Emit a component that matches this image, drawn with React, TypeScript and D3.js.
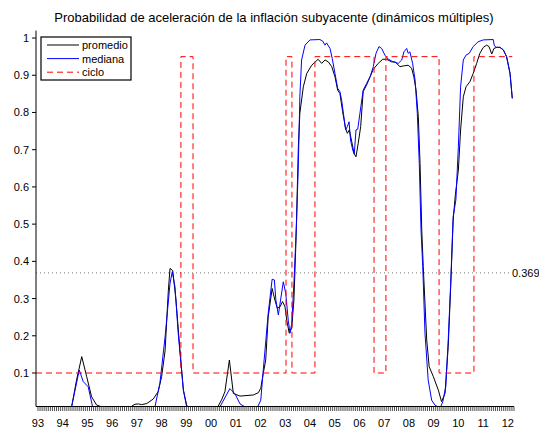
import * as d3 from 'd3'

const TITLE = 'Probabilidad de aceleración de la inflación subyacente (dinámicos múltiples)'
const THRESHOLD = 0.369
const YEAR_LABELS = ['93', '94', '95', '96', '97', '98', '99', '00', '01', '02', '03', '04', '05', '06', '07', '08', '09', '10', '11', '12']
const Y_TICKS = [0.1, 0.2, 0.3, 0.4, 0.5, 0.6, 0.7, 0.8, 0.9, 1]

// [year, value]
const promedio: [number, number][] = [
  [1993, 0], [1994.21, 0], [1994.36, 0.009], [1994.56, 0.081], [1994.77, 0.144], [1994.97, 0.09],
  [1995.17, 0.036], [1995.37, 0.014], [1995.58, 0.009], [1995.83, 0], [1996.72, 0],
  [1996.79, 0.011], [1996.92, 0.016], [1997.06, 0.017], [1997.19, 0.015], [1997.4, 0.018],
  [1997.66, 0.03], [1997.86, 0.05], [1998.0, 0.09], [1998.14, 0.16], [1998.27, 0.32],
  [1998.34, 0.381], [1998.45, 0.375], [1998.58, 0.296], [1998.74, 0.162], [1998.88, 0.054],
  [1999.01, 0.014], [1999.15, 0], [2000.12, 0], [2000.28, 0.01], [2000.44, 0.03], [2000.56, 0.05],
  [2000.74, 0.135], [2000.9, 0.045], [2001.17, 0.038], [2001.71, 0.041], [2001.91, 0.047],
  [2002.01, 0.059], [2002.11, 0.099], [2002.21, 0.135], [2002.31, 0.251], [2002.47, 0.327],
  [2002.58, 0.296], [2002.68, 0.274], [2002.79, 0.278], [2002.89, 0.292], [2002.99, 0.278],
  [2003.06, 0.242], [2003.16, 0.207], [2003.26, 0.22], [2003.35, 0.296], [2003.43, 0.448],
  [2003.53, 0.708], [2003.59, 0.798], [2003.73, 0.869], [2003.87, 0.905], [2004.07, 0.927],
  [2004.33, 0.943], [2004.47, 0.932], [2004.61, 0.941], [2004.74, 0.936], [2004.88, 0.923],
  [2005.01, 0.896], [2005.12, 0.86], [2005.21, 0.851], [2005.32, 0.802], [2005.44, 0.757],
  [2005.51, 0.744], [2005.59, 0.753], [2005.69, 0.721], [2005.78, 0.69], [2005.86, 0.681],
  [2005.95, 0.717], [2006.05, 0.762], [2006.15, 0.856], [2006.29, 0.874], [2006.43, 0.896],
  [2006.56, 0.916], [2006.76, 0.932], [2006.94, 0.943], [2007.1, 0.943], [2007.3, 0.936],
  [2007.44, 0.936], [2007.64, 0.923], [2007.77, 0.925], [2007.97, 0.927], [2008.11, 0.919],
  [2008.2, 0.896], [2008.29, 0.86], [2008.38, 0.789], [2008.45, 0.663], [2008.52, 0.484],
  [2008.58, 0.386], [2008.72, 0.189], [2008.82, 0.117], [2008.99, 0.09], [2009.19, 0.054],
  [2009.32, 0.023], [2009.46, 0.045], [2009.59, 0.171], [2009.69, 0.332], [2009.79, 0.511],
  [2009.88, 0.58], [2010.0, 0.645], [2010.09, 0.753], [2010.2, 0.842], [2010.31, 0.869],
  [2010.47, 0.883], [2010.6, 0.905], [2010.74, 0.932], [2010.87, 0.959], [2011.01, 0.975],
  [2011.14, 0.981], [2011.24, 0.977], [2011.35, 0.957], [2011.44, 0.972], [2011.55, 0.975],
  [2011.68, 0.975], [2011.82, 0.968], [2011.95, 0.95], [2012.09, 0.905], [2012.18, 0.838],
]

const mediana: [number, number][] = [
  [1993, 0], [1994.25, 0], [1994.36, 0.009], [1994.5, 0.054], [1994.67, 0.108], [1994.83, 0.077],
  [1995.03, 0.063], [1995.21, 0.009], [1995.3, 0], [1997.69, 0], [1997.73, 0.009],
  [1997.93, 0.072], [1998.14, 0.197], [1998.34, 0.341], [1998.43, 0.372], [1998.54, 0.332],
  [1998.67, 0.207], [1998.88, 0.054], [1999.01, 0.01], [1999.11, 0], [2000.28, 0],
  [2000.4, 0.014], [2000.76, 0.058], [2000.97, 0.044], [2001.17, 0.017], [2001.37, 0.009],
  [2001.49, 0], [2001.82, 0], [2002.01, 0.027], [2002.11, 0.108], [2002.31, 0.26],
  [2002.47, 0.352], [2002.56, 0.35], [2002.62, 0.296], [2002.72, 0.256], [2002.81, 0.296],
  [2002.92, 0.345], [2003.02, 0.314], [2003.12, 0.242], [2003.19, 0.207], [2003.26, 0.233],
  [2003.35, 0.341], [2003.46, 0.511], [2003.53, 0.663], [2003.59, 0.842], [2003.66, 0.941],
  [2003.8, 0.981], [2004.0, 0.995], [2004.4, 0.996], [2004.51, 0.992], [2004.61, 0.981],
  [2004.67, 0.987], [2004.81, 0.972], [2004.9, 0.945], [2005.01, 0.905], [2005.12, 0.865],
  [2005.21, 0.856], [2005.28, 0.833], [2005.37, 0.789], [2005.44, 0.753], [2005.51, 0.762],
  [2005.58, 0.775], [2005.64, 0.726], [2005.73, 0.699], [2005.79, 0.688], [2005.86, 0.753],
  [2005.93, 0.755], [2006.02, 0.798], [2006.15, 0.86], [2006.29, 0.878], [2006.43, 0.896],
  [2006.56, 0.923], [2006.67, 0.959], [2006.79, 0.977], [2006.9, 0.972], [2007.03, 0.954],
  [2007.17, 0.943], [2007.37, 0.936], [2007.57, 0.932], [2007.71, 0.941], [2007.8, 0.963],
  [2007.91, 0.972], [2007.97, 0.959], [2008.04, 0.963], [2008.15, 0.932], [2008.25, 0.887],
  [2008.34, 0.798], [2008.42, 0.663], [2008.49, 0.484], [2008.56, 0.386], [2008.65, 0.207],
  [2008.78, 0.081], [2008.92, 0.027], [2009.05, 0.014], [2009.26, 0.005], [2009.37, 0.023],
  [2009.49, 0.063], [2009.59, 0.189], [2009.69, 0.341], [2009.79, 0.52], [2009.9, 0.565],
  [2010.0, 0.708], [2010.09, 0.869], [2010.2, 0.941], [2010.31, 0.954], [2010.44, 0.959],
  [2010.6, 0.977], [2010.8, 0.99], [2011.01, 0.995], [2011.41, 0.996], [2011.45, 0.981],
  [2011.52, 0.975], [2011.68, 0.975], [2011.82, 0.968], [2011.95, 0.95], [2012.09, 0.905],
  [2012.18, 0.838],
]

// step changes of the cycle indicator
const cicloYears = [1992.92, 1998.78, 1999.27, 2003.03, 2003.27, 2004.2, 2006.59, 2007.07, 2009.22, 2010.63, 2012.18]
const cicloValues = [0.1, 0.95, 0.1, 0.95, 0.1, 0.95, 0.1, 0.95, 0.1, 0.95, 0.95]

const W = 539
const H = 428
const FONT = '"Liberation Sans", Arial, Helvetica, sans-serif'

export default function App() {
  const x = d3.scaleLinear().domain([1992.92, 2012.25]).range([36, 514])
  const y = d3.scaleLinear().domain([0.01, 1.02]).range([406.5, 30.6])
  const [x0, x1] = x.range()
  const [yb, yt] = y.range()

  const line = d3.line<[number, number]>().x((d) => x(d[0])).y((d) => y(d[1]))
  const ciclo = cicloYears.map((t, i) => [t, cicloValues[i]] as [number, number])
  const stepLine = d3.line<[number, number]>().x((d) => x(d[0])).y((d) => y(d[1])).curve(d3.curveStepAfter)

  const months = d3.range(-1, 232).map((m) => 1993 + m / 12).filter((t) => t >= x.domain()[0] - 1e-6 && t <= x.domain()[1])

  return (
    <svg width={W} height={H} style={{ position: 'absolute', left: 0, top: 0, background: '#fff' }} fontFamily={FONT}>
      <defs>
        <clipPath id="plot">
          <rect x={x0} y={yt - 5} width={x1 - x0 + 2} height={yb - yt + 5} />
        </clipPath>
      </defs>
      <text x={274} y={22} textAnchor="middle" fontSize={13} fill="#000">{TITLE}</text>

      {/* threshold */}
      <line x1={x0} x2={510} y1={y(THRESHOLD)} y2={y(THRESHOLD)} stroke="#777" strokeWidth={1} strokeDasharray="1,3" />
      <text x={512} y={y(THRESHOLD) + 4} fontSize={11} fill="#000">{THRESHOLD.toFixed(3)}</text>

      <g clipPath="url(#plot)" fill="none">
        <path d={line(promedio) ?? ''} stroke="#000" strokeWidth={1} />
        <path d={line(mediana) ?? ''} stroke="#0000ff" strokeWidth={1} />
        <path d={stepLine(ciclo) ?? ''} stroke="#ff0000" strokeWidth={1} strokeDasharray="6,4" />
      </g>

      {/* axes */}
      <line x1={x0} x2={x1} y1={yb} y2={yb} stroke="#000" strokeWidth={1} />
      <line x1={x0} x2={x0} y1={yb} y2={yt} stroke="#000" strokeWidth={1} />
      {months.map((t, i) => (
        <line key={i} x1={x(t)} x2={x(t)} y1={yb} y2={yb + 4.5} stroke="#000" strokeWidth={0.7} />
      ))}
      {YEAR_LABELS.map((lab, i) => (
        <text key={lab} x={x(1993 + i)} y={427} textAnchor="middle" fontSize={11} fill="#000">{lab}</text>
      ))}
      {Y_TICKS.map((v) => (
        <g key={v}>
          <line x1={x0 - 4} x2={x0} y1={y(v)} y2={y(v)} stroke="#000" strokeWidth={1} />
          <text x={29} y={y(v) + 4} textAnchor="end" fontSize={11} fill="#000">{d3.format('~g')(v)}</text>
        </g>
      ))}

      {/* legend */}
      <g>
        <rect x={41} y={37} width={90} height={43} fill="#fff" stroke="#000" strokeWidth={1.2} />
        {[
          { name: 'promedio', color: '#000', dash: undefined },
          { name: 'mediana', color: '#0000ff', dash: undefined },
          { name: 'ciclo', color: '#ff0000', dash: '6,4' },
        ].map((d, i) => (
          <g key={d.name} transform={`translate(0,${45 + i * 13.6})`}>
            <line x1={47} x2={79} y1={0} y2={0} stroke={d.color} strokeWidth={1} strokeDasharray={d.dash} />
            <text x={82} y={4} fontSize={11} fill="#000">{d.name}</text>
          </g>
        ))}
      </g>
    </svg>
  )
}
